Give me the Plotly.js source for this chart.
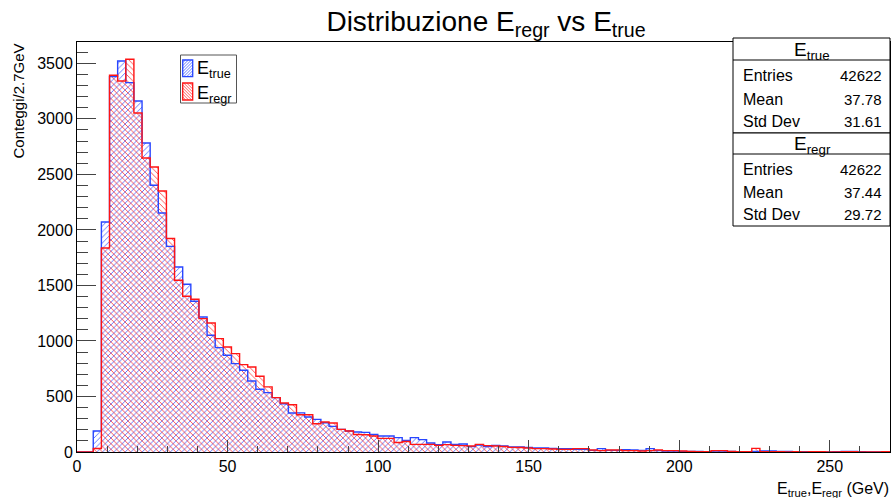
<!DOCTYPE html>
<html><head><meta charset="utf-8">
<script src="https://cdn.plot.ly/plotly-3.0.1.min.js"></script>
<style>html,body{margin:0;padding:0;background:#fff}#chart{width:892px;height:498px}</style>
</head><body><div id="chart"></div>
<script>
// ---- data ----
const binWidth = 2.7;
const xMin = 0;
const eTrue = [0,0,189,2071,3380,3521,3326,3161,2783,2402,
  2152,1852,1666,1510,1357,1216,1051,940,871,796,
  736,640,565,535,490,435,351,352,315,294,
  264,231,204,189,180,177,157,144,144,129,
  103,129,111,81,66,90,69,72,48,63,
  48,60,54,46,45,42,36,36,33,30,
  30,24,24,15,30,15,15,21,18,15,
  30,12,9,9,6,6,6,3,9,9,
  6,3,3,6,9,9,6,6,3,3,
  3,3,0,3,6,6,3,0,0,0];
const eRegr = [0,0,31,1837,3392,3341,3536,3053,2648,2567,
  2350,1922,1546,1402,1375,1201,1162,1021,946,886,
  787,766,682,586,490,441,425,336,336,255,
  270,261,204,189,157,155,144,123,123,85,
  94,69,69,69,60,66,60,57,54,69,
  57,54,50,42,40,36,30,30,27,24,
  24,30,30,18,12,18,18,12,12,9,
  12,18,12,12,9,6,3,3,12,12,
  6,3,3,33,3,3,3,0,3,0,
  3,3,0,0,3,3,0,0,0,3];
const seriesNames = ['E<sub>true</sub>', 'E<sub>regr</sub>'];
const statLabels = ['Entries', 'Mean', 'Std Dev'];
const statsTrue = ['42622', '37.78', '31.61'];
const statsRegr = ['42622', '37.44', '29.72'];
const xTickVals = [0, 50, 100, 150, 200, 250];
const yTickVals = [0, 500, 1000, 1500, 2000, 2500, 3000, 3500];

// ---- geometry ----
const W = 892, H = 498, L = 77, R = 2, T = 42, B = 46;
const fx = px => (px - L) / (W - L - R);
const fy = py => (H - B - py) / (H - T - B);

const BLUE = 'rgb(40,70,255)';
const RED = 'rgb(255,20,20)';
const FONT = 'Liberation Sans, Arial, sans-serif';

const centers = eTrue.map((_, i) => xMin + (i + 0.5) * binWidth);
const edges = eTrue.map((_, i) => xMin + i * binWidth).concat([xMin + eTrue.length * binWidth]);
const stepY = arr => arr.concat([arr[arr.length - 1]]);

function barTrace(vals, color, shape) {
  return {type: 'bar', x: centers, y: vals, width: binWidth, showlegend: false, hoverinfo: 'skip',
    marker: {color: color, line: {width: 0}, pattern: {shape: shape, size: 4, solidity: 0.18, fgcolor: color}}};
}
function stepTrace(vals, color) {
  return {type: 'scatter', mode: 'lines', x: edges, y: stepY(vals), showlegend: false, hoverinfo: 'skip',
    line: {shape: 'hv', color: color, width: 1.4}};
}

const data = [
  barTrace(eTrue, BLUE, '/'),
  barTrace(eRegr, RED, '\\'),
  stepTrace(eTrue, BLUE),
  stepTrace(eRegr, RED)
];

// ---- stats box ----
const shapes = [
  {type: 'rect', xref: 'paper', yref: 'paper', x0: fx(733), x1: fx(890), y0: fy(133), y1: fy(38), fillcolor: 'white', line: {color: 'black', width: 1}},
  {type: 'rect', xref: 'paper', yref: 'paper', x0: fx(733), x1: fx(890), y0: fy(226), y1: fy(133), fillcolor: 'white', line: {color: 'black', width: 1}},
  {type: 'line', xref: 'paper', yref: 'paper', x0: fx(733), x1: fx(890), y0: fy(60), y1: fy(60), line: {color: 'black', width: 1}},
  {type: 'line', xref: 'paper', yref: 'paper', x0: fx(733), x1: fx(890), y0: fy(154), y1: fy(154), line: {color: 'black', width: 1}}
];
const annotations = [];
function addStats(title, vals, titleY, rowYs) {
  annotations.push({xref: 'paper', yref: 'paper', x: fx(812), y: fy(titleY), text: title, showarrow: false,
    xanchor: 'center', yanchor: 'middle', font: {family: FONT, size: 19, color: 'black'}});
  statLabels.forEach((lab, i) => {
    annotations.push({xref: 'paper', yref: 'paper', x: fx(741), y: fy(rowYs[i]), text: lab, showarrow: false,
      xanchor: 'left', yanchor: 'middle', font: {family: FONT, size: 16, color: 'black'}});
    annotations.push({xref: 'paper', yref: 'paper', x: fx(884), y: fy(rowYs[i]), text: vals[i], showarrow: false,
      xanchor: 'right', yanchor: 'middle', font: {family: FONT, size: 15, color: 'black'}});
  });
}
addStats(seriesNames[0], statsTrue, 51, [76, 99.5, 122]);
addStats(seriesNames[1], statsRegr, 145, [169, 192, 214]);

// ---- legend (drawn as decoration) ----
shapes.push({type: 'rect', xref: 'paper', yref: 'paper', x0: fx(180.5), x1: fx(236.5), y0: fy(103), y1: fy(55),
  fillcolor: 'white', line: {color: '#555', width: 1}});
function swatch(px0, py0, px1, py1, color, dir) {
  shapes.push({type: 'rect', xref: 'paper', yref: 'paper', x0: fx(px0), x1: fx(px1), y0: fy(py1), y1: fy(py0),
    fillcolor: 'rgba(0,0,0,0)', line: {color: color, width: 1.3}});
  // diagonal hatch lines clipped to the swatch
  const w = px1 - px0, h = py1 - py0, step = 3;
  for (let c = -w; c < h; c += step) {
    // line: along t, points (px0 + u, py0 + c + u) for '/' reversed
    let u0 = Math.max(0, -c), u1 = Math.min(w, h - c);
    if (u1 - u0 < 0.5) continue;
    let xa = px0 + u0, xb = px0 + u1, ya, yb;
    if (dir === '/') { ya = py1 - (c + u0); yb = py1 - (c + u1); }
    else { ya = py0 + c + u0; yb = py0 + c + u1; }
    shapes.push({type: 'line', xref: 'paper', yref: 'paper', x0: fx(xa), x1: fx(xb), y0: fy(ya), y1: fy(yb),
      line: {color: color, width: 0.7}});
  }
}
swatch(182.7, 60, 192.7, 76.7, BLUE, '/');
swatch(182.7, 83, 192.7, 100, RED, '\\');
annotations.push({xref: 'paper', yref: 'paper', x: fx(195), y: fy(70), text: seriesNames[0], showarrow: false,
  xanchor: 'left', yanchor: 'middle', font: {family: FONT, size: 18, color: 'black'}});
annotations.push({xref: 'paper', yref: 'paper', x: fx(195), y: fy(94), text: seriesNames[1], showarrow: false,
  xanchor: 'left', yanchor: 'middle', font: {family: FONT, size: 18, color: 'black'}});

// axis titles
annotations.push({xref: 'paper', yref: 'paper', x: fx(18), y: fy(42), text: 'Conteggi/2.7GeV', textangle: -90,
  showarrow: false, xanchor: 'center', yanchor: 'top', font: {family: FONT, size: 15, color: 'black'}});
annotations.push({xref: 'paper', yref: 'paper', x: fx(891), y: fy(478), text: 'E<sub>true</sub>,E<sub>regr</sub> (GeV)',
  showarrow: false, xanchor: 'right', yanchor: 'top', font: {family: FONT, size: 16, color: 'black'}});

const layout = {
  width: W, height: H,
  margin: {l: L, r: R, t: T, b: B, pad: 0},
  paper_bgcolor: 'white', plot_bgcolor: 'white',
  barmode: 'overlay', bargap: 0,
  showlegend: false,
  font: {family: FONT, color: 'black'},
  title: {text: 'Distribuzione E<sub>regr</sub> vs E<sub>true</sub>', x: 486 / W, xref: 'container', xanchor: 'center',
    y: 1 - 21 / H, yref: 'container', yanchor: 'middle', font: {family: FONT, size: 28, color: 'black'}},
  xaxis: {range: [xMin, xMin + eTrue.length * binWidth], tickvals: xTickVals, ticks: 'inside', ticklen: 12, tickcolor: '#444',
    minor: {dtick: 10, ticks: 'inside', ticklen: 6, tickcolor: '#444', showgrid: false},
    showgrid: false, zeroline: false, showline: true, linecolor: 'black', linewidth: 1, mirror: true,
    tickfont: {family: FONT, size: 16, color: 'black'}, fixedrange: true},
  yaxis: {range: [0, 3692], tickvals: yTickVals, ticks: 'inside', ticklen: 19, tickcolor: '#444',
    minor: {dtick: 100, ticks: 'inside', ticklen: 11, tickcolor: '#444', showgrid: false},
    showgrid: false, zeroline: false, showline: true, linecolor: 'black', linewidth: 1, mirror: true,
    tickfont: {family: FONT, size: 16, color: 'black'}, fixedrange: true},
  shapes: shapes,
  annotations: annotations
};

Plotly.newPlot('chart', data, layout, {displayModeBar: false, staticPlot: true});
</script>
</body></html>
